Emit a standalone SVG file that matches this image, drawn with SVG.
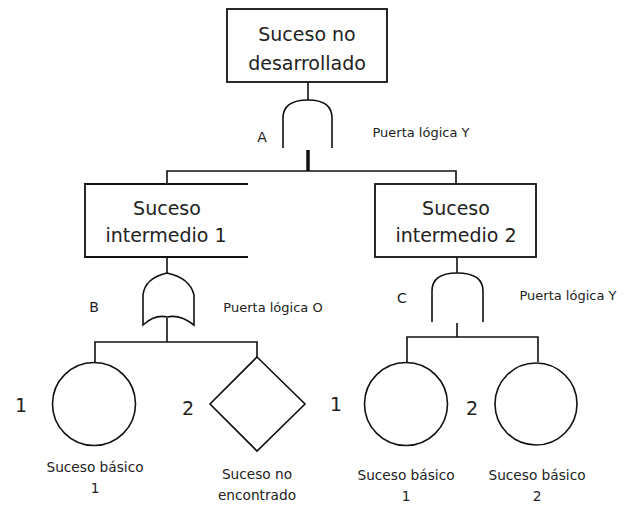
<svg xmlns="http://www.w3.org/2000/svg" width="626" height="508" viewBox="0 0 626 508">
<style>
.ln{fill:none;stroke:#111;stroke-width:1.6}
.bx{fill:#fff;stroke:#111;stroke-width:1.8}
.t{font-family:"DejaVu Sans",sans-serif;fill:#222;text-anchor:middle}
.big{font-size:19px}
.sm{font-size:13px}
.bt{font-size:13.7px}
.lab{font-size:14px}
.num{font-size:19px}
</style>
<rect width="626" height="508" fill="#fff"/>
<g id="connectors">
<path class="ln" d="M308,82 V100"/>
<path d="M308,150 V171" stroke="#111" stroke-width="3.5" fill="none"/>
<path class="ln" d="M167,184 V171 H456 V184"/>
<path class="ln" d="M167,257 V273"/>
<path class="ln" d="M167,318 V342"/>
<path class="ln" d="M95,363 V342 H257 V357"/>
<path class="ln" d="M457,257 V273"/>
<path class="ln" d="M457,323 V337"/>
<path class="ln" d="M407,362 V337 H538 V362"/>
</g>
<g id="top">
<rect class="bx" x="227" y="9" width="160" height="73"/>
<text class="t big" x="307" y="41">Suceso no</text>
<text class="t big" x="307" y="70">desarrollado</text>
</g>
<g id="gateA">
<path class="ln" d="M283,148 V118 Q283,100 308,100 Q332,100 332,118 V148"/>
<text class="t lab" x="262" y="142">A</text>
<text class="t sm" x="421" y="137">Puerta lógica Y</text>
</g>
<g id="int1">
<path class="bx" d="M248,184 H85 V257 H248"/>
<text class="t big" x="167" y="215">Suceso</text>
<text class="t big" x="166" y="242">intermedio 1</text>
</g>
<g id="gateB">
<path class="ln" d="M143,325 V295 Q145,278 167,273 Q190,278 194,295 V325 Q180,314 167,317 Q155,314 143,325 Z"/>
<text class="t lab" x="94" y="312">B</text>
<text class="t sm" x="273" y="312">Puerta lógica O</text>
</g>
<g id="int2">
<rect class="bx" x="375" y="184" width="161" height="73"/>
<text class="t big" x="456" y="215">Suceso</text>
<text class="t big" x="456" y="242">intermedio 2</text>
</g>
<g id="gateC">
<path class="ln" d="M432,322 V291 Q432,273 457,273 Q483,273 483,291 V322"/>
<text class="t lab" x="402" y="303">C</text>
<text class="t sm" x="568" y="300">Puerta lógica Y</text>
</g>
<g id="b1">
<circle class="ln" cx="94" cy="404" r="41.5"/>
<text class="t num" x="21" y="412">1</text>
<text class="t bt" x="95" y="472">Suceso básico</text>
<text class="t bt" x="95" y="493">1</text>
</g>
<g id="nd">
<path class="ln" d="M257,357 L305,404 L257,451 L210,404 Z"/>
<text class="t num" x="188" y="415">2</text>
<text class="t bt" x="257" y="479">Suceso no</text>
<text class="t bt" x="257" y="500">encontrado</text>
</g>
<g id="b3">
<circle class="ln" cx="406" cy="404" r="41.5"/>
<text class="t num" x="336" y="411">1</text>
<text class="t bt" x="406" y="480">Suceso básico</text>
<text class="t bt" x="406" y="501">1</text>
</g>
<g id="b4">
<circle class="ln" cx="536" cy="404" r="41"/>
<text class="t num" x="472" y="415">2</text>
<text class="t bt" x="537" y="480">Suceso básico</text>
<text class="t bt" x="537" y="501">2</text>
</g>
</svg>
